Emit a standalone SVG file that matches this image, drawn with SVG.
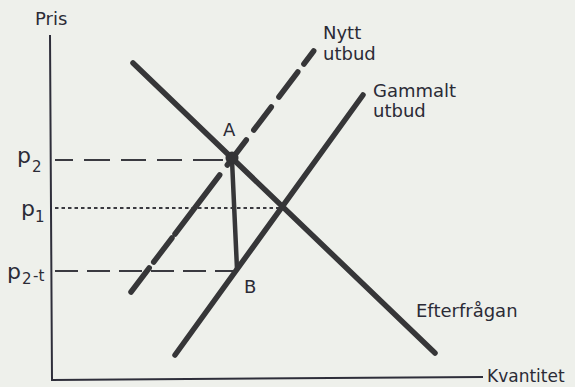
<svg xmlns="http://www.w3.org/2000/svg" width="575" height="387" viewBox="0 0 575 387">
<style>
text{font-family:"DejaVu Sans","Liberation Sans",sans-serif;fill:#2b2b36;font-size:18px}
.sub{font-size:15px}
.p{font-size:22px}
.curve{stroke:#363638;stroke-width:5.5;stroke-linecap:round;fill:none}
.axis{stroke:#2e2e3a;stroke-width:2;fill:none}
.guide{stroke:#3a3a40;stroke-width:2;fill:none}
</style>
<rect width="575" height="387" fill="#eef0eb"/>
<g id="axes">
<polyline class="axis" points="50,35 52,380 483,377"/>
<text x="35" y="25">Pris</text>
<text x="487" y="382" style="font-size:17px">Kvantitet</text>
</g>
<g id="guides">
<line class="guide" x1="55" y1="160" x2="227" y2="160" stroke-dasharray="18 11 26 11 25 11 25 11 30"/>
<line class="guide" x1="55" y1="208" x2="284" y2="208" stroke-dasharray="3.5 3"/>
<line class="guide" x1="55" y1="271" x2="236" y2="271" stroke-dasharray="23 9"/>
</g>
<g id="demand">
<line class="curve" x1="133" y1="63" x2="435" y2="353"/>
<text x="416" y="317">Efterfrågan</text>
</g>
<g id="old-supply">
<line class="curve" x1="175" y1="355" x2="363" y2="95"/>
<text x="373" y="97">Gammalt</text>
<text x="373" y="117">utbud</text>
</g>
<g id="new-supply">
<g class="curve">
<line x1="131" y1="292" x2="149.2" y2="268"/>
<line x1="153.7" y1="262" x2="172" y2="238"/>
<line x1="175" y1="234" x2="219.7" y2="175"/>
<line x1="227.3" y1="165" x2="246.3" y2="140"/>
<line x1="253.8" y1="130" x2="271.3" y2="107"/>
<line x1="278.9" y1="97" x2="297.8" y2="72"/>
<line x1="303.9" y1="64" x2="313.7" y2="51"/>
</g>
<text x="323" y="39">Nytt</text>
<text x="323" y="60">utbud</text>
</g>
<g id="AB">
<line stroke="#363638" stroke-width="4.5" stroke-linecap="round" x1="232" y1="160" x2="237" y2="269"/>
<circle cx="232" cy="158" r="6.5" fill="#333335"/>
<text x="223" y="136">A</text>
<text x="244" y="293">B</text>
</g>
<g id="price-labels">
<text class="p" x="17" y="163">p</text><text class="sub" x="32" y="172">2</text>
<text class="p" x="21" y="216">p</text><text class="sub" x="35" y="222">1</text>
<text class="p" x="7" y="279">p</text><text class="sub" x="22" y="284">2</text><text class="sub" x="33" y="281">-t</text>
</g>
</svg>
